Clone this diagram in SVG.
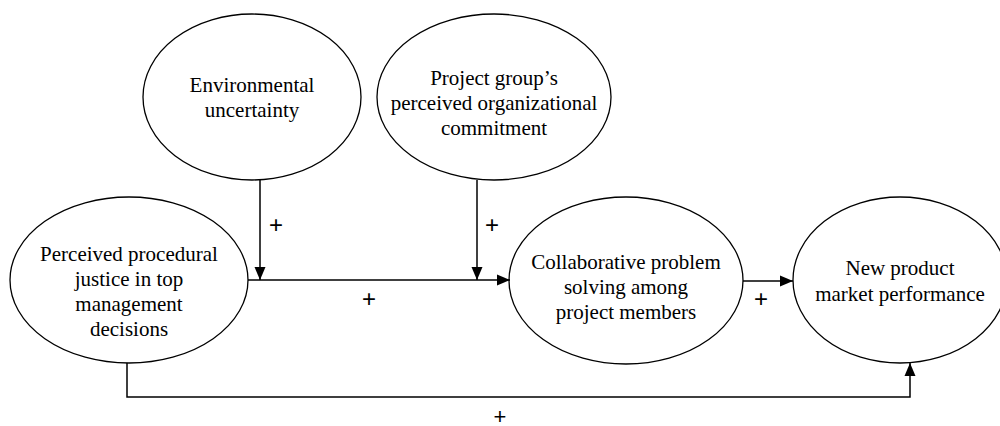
<svg xmlns="http://www.w3.org/2000/svg" width="1000" height="426" viewBox="0 0 1000 426">
<style>
.node ellipse{fill:#fff;stroke:#000;stroke-width:1.3}
.node text{font-family:"Liberation Serif","Times New Roman","DejaVu Serif",serif;font-size:21px;fill:#000;text-anchor:middle}
.conn path{fill:none;stroke:#000;stroke-width:1.5}
.lbl{font-family:"Liberation Sans",Arial,sans-serif;font-size:24px;fill:#000;text-anchor:middle}
</style>
<defs>
<marker id="ah" markerUnits="userSpaceOnUse" markerWidth="14" markerHeight="12" refX="13" refY="6" orient="auto">
<path d="M0,0.5 L13,6 L0,11.5 z" fill="#000"/>
</marker>
</defs>
<rect width="1000" height="426" fill="#fff"/>
<g id="n-env" class="node">
<ellipse cx="252" cy="97" rx="109" ry="83"/>
<text x="252" y="92">Environmental</text>
<text x="252" y="117">uncertainty</text>
</g>
<g id="n-commit" class="node">
<ellipse cx="494" cy="97" rx="117" ry="83"/>
<text x="494" y="85">Project group’s</text>
<text x="494" y="110">perceived organizational</text>
<text x="494" y="135">commitment</text>
</g>
<g id="n-justice" class="node">
<ellipse cx="129" cy="280" rx="119" ry="83"/>
<text x="129" y="261">Perceived procedural</text>
<text x="129" y="286">justice in top</text>
<text x="129" y="311">management</text>
<text x="129" y="336">decisions</text>
</g>
<g id="n-collab" class="node">
<ellipse cx="626" cy="280.5" rx="117" ry="83.5"/>
<text x="626" y="269">Collaborative problem</text>
<text x="626" y="294">solving among</text>
<text x="626" y="319">project members</text>
</g>
<g id="n-perf" class="node">
<ellipse cx="900" cy="280" rx="107" ry="83"/>
<text x="900" y="275">New product</text>
<text x="900" y="301">market performance</text>
</g>
<g id="connectors" class="conn">
<path d="M248,280 L510,280" marker-end="url(#ah)"/>
<path d="M260,180 L260,280" marker-end="url(#ah)"/>
<path d="M477,180 L477,280" marker-end="url(#ah)"/>
<path d="M743,281 L793,281" marker-end="url(#ah)"/>
<path d="M127,363 L127,397 L910,397 L910,363" marker-end="url(#ah)"/>
</g>
<g id="labels">
<text class="lbl" x="276" y="233">+</text>
<text class="lbl" x="492" y="233">+</text>
<text class="lbl" x="369" y="307">+</text>
<text class="lbl" x="761" y="307">+</text>
<text class="lbl" x="500" y="424" style="font-size:22px">+</text>
</g>
</svg>
